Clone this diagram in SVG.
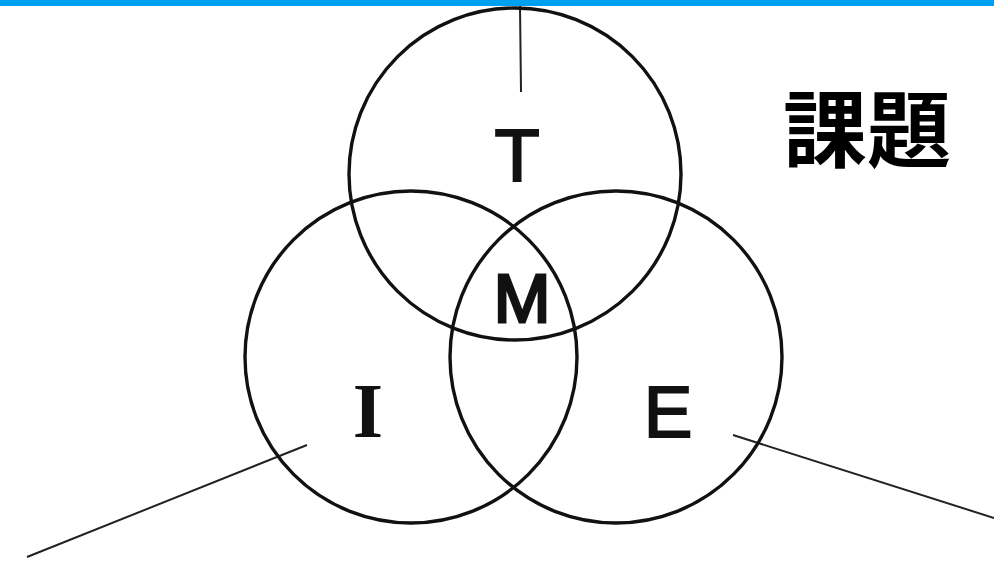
<svg xmlns="http://www.w3.org/2000/svg" width="994" height="561" viewBox="0 0 994 561">
<style>
.c{fill:none;stroke:#111;stroke-width:3.4}
.l{stroke:#222;stroke-width:2;fill:none}
.s{font-family:"Liberation Sans",Arial,sans-serif;fill:#111;stroke:#111;stroke-width:2;text-anchor:middle}
.r{font-family:"Liberation Serif","Times New Roman",serif;font-weight:bold;fill:#111;text-anchor:middle}
.k{font-family:"Noto Sans CJK JP","Noto Sans CJK SC",sans-serif;font-weight:bold;fill:#000;text-anchor:middle}
</style>
<rect x="0" y="0" width="994" height="561" fill="#fff"/>
<rect x="0" y="0" width="994" height="6" fill="#00A0F0"/>
<g id="connectors">
<line class="l" x1="520" y1="6" x2="521" y2="92"/>
<line class="l" x1="27" y1="557" x2="307" y2="445"/>
<line class="l" x1="733" y1="435" x2="994" y2="518"/>
</g>
<g id="T"><circle class="c" cx="515" cy="174" r="166"/><text class="s" x="517" y="181" font-size="74">T</text></g>
<g id="I"><circle class="c" cx="411" cy="357" r="166"/><text class="r" x="368" y="437" font-size="78">I</text></g>
<g id="E"><circle class="c" cx="616" cy="357" r="166"/><text class="s" x="668" y="437" font-size="73">E</text></g>
<g id="M"><text class="s" x="522" y="322" font-size="68" style="stroke-width:3">M</text></g>
<g id="title"><text class="k" x="867" y="161" font-size="84">課題</text></g>
</svg>
